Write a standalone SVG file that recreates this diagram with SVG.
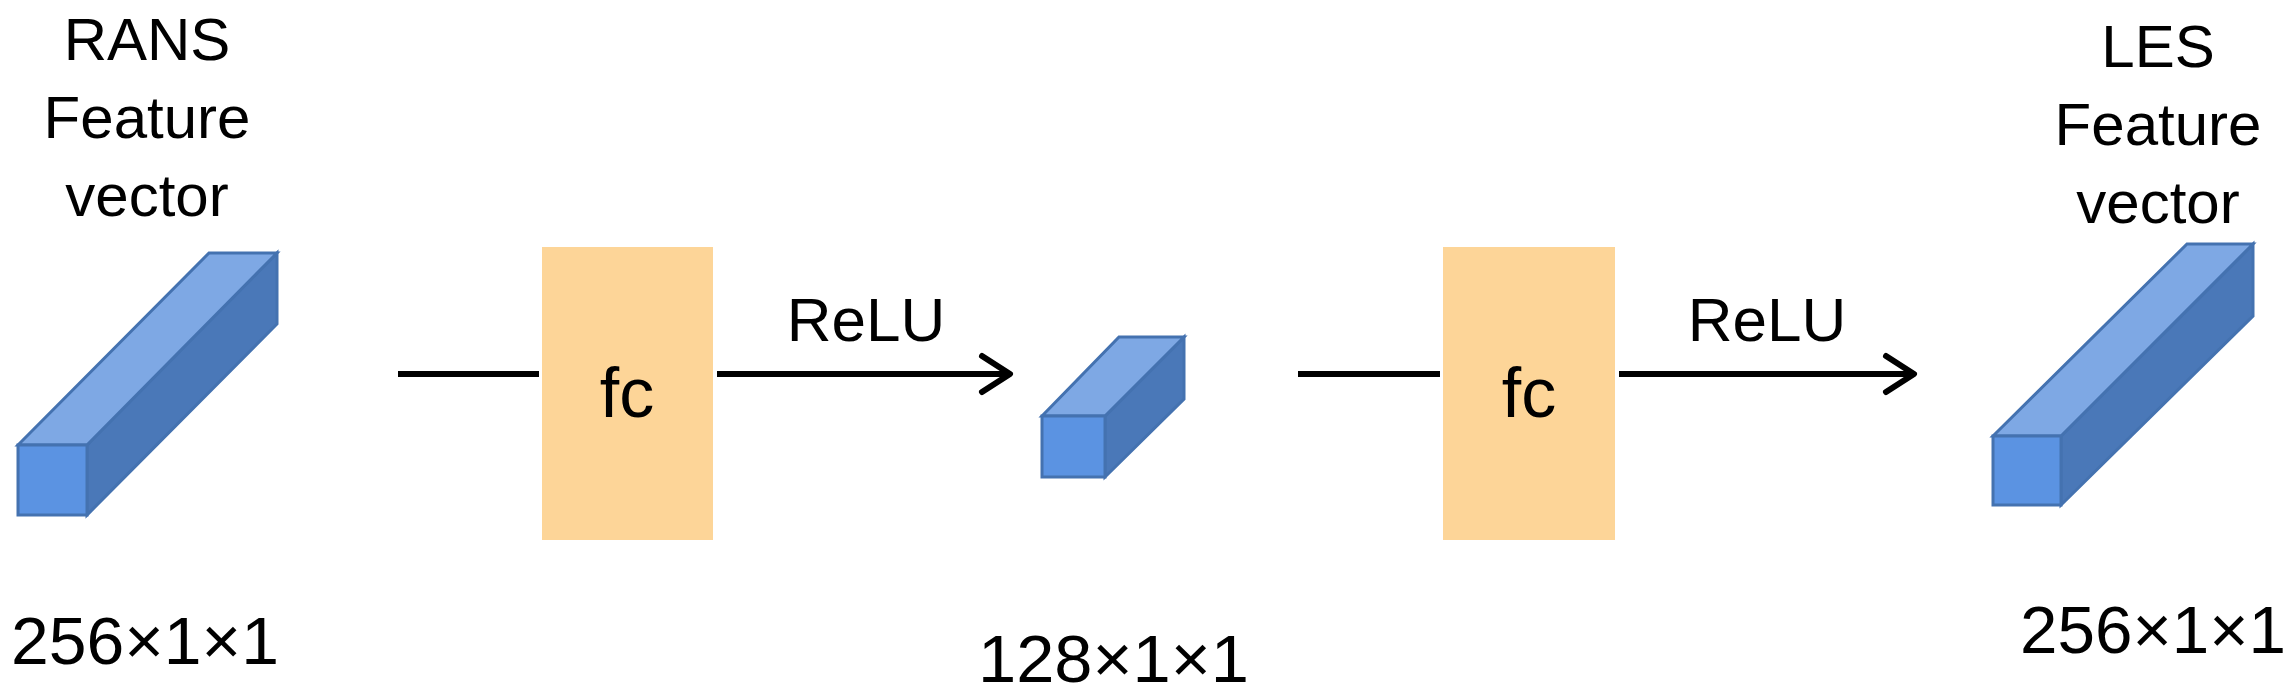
<svg xmlns="http://www.w3.org/2000/svg" width="2295" height="699" viewBox="0 0 2295 699">
<style>
.t{font-family:"Liberation Sans",Arial,sans-serif;fill:#000}
.front{fill:#5B93E2;stroke:#4472B0;stroke-width:3}
.top{fill:#7EA8E4;stroke:#4472B0;stroke-width:3}
.side{fill:#4A78B8;stroke:#4472B0;stroke-width:3}
.fc{fill:#FDD598}
.ln{stroke:#000;stroke-width:6;fill:none}
</style>
<defs>
<marker id="arr" viewBox="0 0 10 10" refX="8" refY="5" markerWidth="6" markerHeight="6" markerUnits="userSpaceOnUse" orient="auto" overflow="visible">
<path d="M-3,-12 L14,5 L-3,22" fill="none" stroke="#000" stroke-width="6" stroke-linecap="round" stroke-linejoin="round" transform="scale(0.55)"/>
</marker>
</defs>
<g id="input">
<polygon class="side" points="87,445 277,253 277,324 87,515"/>
<polygon class="top" points="18,445 209,253 277,253 87,445"/>
<rect class="front" x="18" y="445" width="69" height="70"/>
<text class="t" x="147" y="60" font-size="60" text-anchor="middle">RANS</text>
<text class="t" x="147" y="138" font-size="60" text-anchor="middle">Feature</text>
<text class="t" x="147" y="216" font-size="60" text-anchor="middle">vector</text>
<text class="t" x="11" y="664" font-size="66" textLength="268" lengthAdjust="spacingAndGlyphs">256×1×1</text>
</g>
<g id="fc1">
<rect class="fc" x="542" y="247" width="171" height="293"/>
<text class="t" x="627" y="417" font-size="70" text-anchor="middle">fc</text>
</g>
<g id="hidden">
<polygon class="side" points="1105,416 1184,337 1184,399 1105,477"/>
<polygon class="top" points="1042,416 1119,337 1184,337 1105,416"/>
<rect class="front" x="1042" y="416" width="63" height="61"/>
<text class="t" x="978" y="682" font-size="66" textLength="271" lengthAdjust="spacingAndGlyphs">128×1×1</text>
</g>
<g id="fc2">
<rect class="fc" x="1443" y="247" width="172" height="293"/>
<text class="t" x="1529" y="417" font-size="70" text-anchor="middle">fc</text>
</g>
<g id="output">
<polygon class="side" points="2061,436 2253,244 2253,316 2061,505"/>
<polygon class="top" points="1993,436 2187,244 2253,244 2061,436"/>
<rect class="front" x="1993" y="436" width="68" height="69"/>
<text class="t" x="2158" y="67" font-size="60" text-anchor="middle">LES</text>
<text class="t" x="2158" y="145" font-size="60" text-anchor="middle">Feature</text>
<text class="t" x="2158" y="223" font-size="60" text-anchor="middle">vector</text>
<text class="t" x="2020" y="653" font-size="66" textLength="266" lengthAdjust="spacingAndGlyphs">256×1×1</text>
</g>
<g id="connectors">
<line class="ln" x1="398" y1="374" x2="539" y2="374"/>
<line class="ln" x1="717" y1="374" x2="1010" y2="374"/>
<path d="M982,356 L1010,374 L982,392" fill="none" stroke="#000" stroke-width="6" stroke-linecap="round" stroke-linejoin="round"/>
<text class="t" x="866" y="341" font-size="62" text-anchor="middle">ReLU</text>
<line class="ln" x1="1298" y1="374" x2="1440" y2="374"/>
<line class="ln" x1="1619" y1="374" x2="1914" y2="374"/>
<path d="M1886,356 L1914,374 L1886,392" fill="none" stroke="#000" stroke-width="6" stroke-linecap="round" stroke-linejoin="round"/>
<text class="t" x="1767" y="341" font-size="62" text-anchor="middle">ReLU</text>
</g>
</svg>
